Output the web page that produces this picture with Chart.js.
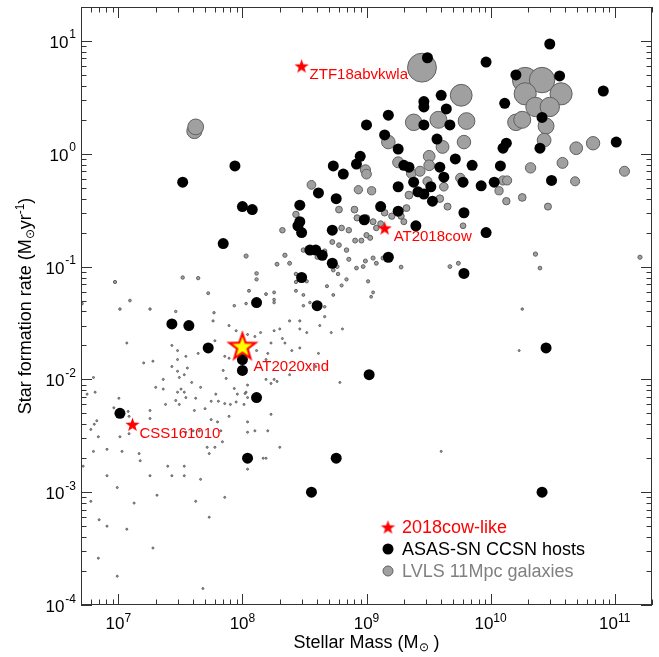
<!DOCTYPE html>
<html>
<head>
<meta charset="utf-8">
<script src="https://cdn.jsdelivr.net/npm/chart.js@4.4.1/dist/chart.umd.min.js"></script>
<style>
  html, body { margin: 0; padding: 0; background: #fff; }
  #wrap { width: 659px; height: 657px; }
</style>
</head>
<body>
<div id="wrap"><canvas id="sfrChart"></canvas></div>
<script>
// ---- values (stellar mass in Msun, SFR in Msun/yr) ----

// 2018cow-like transients
const cowNames = ['ZTF18abvkwla', 'AT2018cow', 'AT2020xnd', 'CSS161010'];
const cowMass  = [3.0e8, 1.4e9, 1.0e8, 1.3e7];
const cowSfr   = [6.0, 0.22, 0.02, 0.004];

// ASAS-SN CCSN hosts
const asasMass = [
  3.3e7, 8.7e7, 1.0e8, 1.2e8, 7.0e7, 2.9e8, 2.9e8, 2.8e8, 3.0e8, 4.1e8,
  3.5e8, 3.9e8, 4.4e8, 3.0e8, 1.3e8, 4.0e8, 2.7e7, 3.7e7, 5.4e8, 6.5e8,
  8.3e8, 8.9e8, 1.8e9, 5.7e8, 5.3e8, 1.3e9, 1.8e9, 9.6e8, 5.3e8, 1.5e9,
  1.8e9, 3.1e9, 9.2e9, 3.0e10, 1.6e10, 3.6e10, 4.0e9, 2.9e9, 2.9e9, 4.4e9,
  1.5e9, 1.3e10, 2.6e10, 2.9e9, 4.7e9, 1.4e9, 3.7e9, 1.34e10, 1.26e10, 2.5e10,
  5.2e9, 7.1e9, 1.2e10, 2.0e9, 2.2e9, 3.9e9, 4.2e9, 2.4e9, 6.0e9, 3.1e10,
  3.3e9, 8.4e9, 1.07e10, 2.6e9, 2.9e9, 3.4e9, 6.1e9, 8.1e10, 1.0e9, 1.03e11,
  2.5e9, 9.2e9, 6.1e9, 5.3e7, 1.0e8, 1.0e8, 1.03e7, 1.3e8, 1.1e8, 3.6e8,
  2.8e10, 1.05e9, 5.7e8, 2.6e10
];
const asasSfr = [
  0.56, 0.78, 0.34, 0.32, 0.16, 0.35, 0.25, 0.23, 0.20, 0.45,
  0.14, 0.14, 0.126, 0.080, 0.048, 0.045, 0.031, 0.030, 0.78, 0.66,
  0.81, 0.95, 1.10, 0.40, 0.21, 0.34, 0.31, 0.26, 0.107, 0.121,
  0.51, 7.1, 6.5, 9.4, 5.0, 4.9, 3.3, 2.9, 2.6, 2.5,
  2.2, 2.8, 2.1, 1.8, 1.8, 1.47, 1.35, 1.24, 1.12, 1.12,
  0.90, 0.79, 0.78, 0.79, 0.76, 0.76, 0.62, 0.56, 0.56, 0.58,
  0.51, 0.52, 0.56, 0.46, 0.44, 0.38, 0.30, 3.6, 1.8, 1.27,
  0.23, 0.20, 0.087, 0.019, 0.015, 0.012, 0.0050, 0.0069, 0.0020, 0.0010,
  0.019, 0.011, 0.0020, 0.0010
];

// LVLS 11 Mpc galaxies
const lvlsMass = [
  2.8e9, 5.8e9, 2.4e9, 3.8e9, 6.4e9, 1.5e9, 4.1e9, 6.1e9, 1.8e9, 3.2e9,
  3.2e9, 2.3e9, 2.7e9, 9.8e8, 1.0e9, 3.1e9, 5.7e9, 4.2e9, 2.2e9, 3.9e9,
  4.5e9, 8.6e8, 1.1e9, 6.0e8, 8.0e8, 1.0e9, 1.13e9, 8.4e8, 2.1e9, 1.9e9,
  2.0e9, 1.6e9, 1.4e9, 1.3e9, 7.2e8, 6.3e8, 1.2e9, 8.1e8, 9.1e8, 1.07e9,
  6.9e8, 5.3e8, 6.0e8, 1.0e9, 1.13e9, 9.4e8, 8.3e8, 1.2e9, 1.36e9, 1.9e9,
  7.2e8, 5.8e8, 9.8e8, 6.3e8, 6.9e8, 5.4e8, 1.03e9, 1.13e9, 1.09e9, 4.7e9,
  5.5e9, 6.4e8, 6.0e9, 1.26e10, 1.36e10, 1.17e10, 1.34e10, 1.8e10, 2.1e10, 2.9e10,
  3.8e10, 4.8e10, 4.9e10, 6.7e10, 1.2e11, 2.3e10, 2.5e10, 1.8e10, 1.6e11, 1.7e10,
  6.1e8, 4.0e9, 1.9e10, 2.6e10, 1.9e10, 3.7e10, 2.3e10, 3.0e10, 1.6e10, 1.8e10,
  2.8e10, 2.7e10, 4.1e7, 4.2e7, 3.6e8, 2.7e8, 2.1e8, 1.07e8, 2.2e8, 2.4e8,
  1.9e8, 3.1e8, 4.6e8, 4.0e8, 9.4e6, 3.3e7, 4.4e7, 1.3e8, 1.3e8, 2.7e8,
  3.3e8, 2.7e8, 5.3e7, 1.13e8, 1.55e8, 1.8e8, 1.8e8, 1.8e8, 2.7e8, 3.1e8,
  4.8e8, 5.1e6, 1.03e7, 1.24e7, 1.8e7, 2.9e7, 8.6e7, 1.07e8, 3.1e8, 3.5e8,
  4.6e8, 4.6e8, 5.9e7, 5.8e7, 2.4e8, 2.9e8, 2.9e8, 3.3e8, 1.8e8, 2.0e8,
  1.4e8, 1.1e8, 1.26e8, 1.7e8, 2.1e8, 2.2e8, 2.5e8, 2.9e8, 4.1e8, 1.6e8,
  1.55e8, 1.3e8, 3.9e8, 2.4e8, 1.8e8, 1.9e8, 1.7e8, 1.55e8, 1.1e8, 1.05e8,
  1.1e8, 1.03e8, 1.7e8, 1.1e8, 1.26e8, 5.2e8, 4.2e8, 5.4e8, 5.9e8, 1.17e7,
  2.7e7, 3.0e7, 4.4e7, 6.0e7, 7.8e7, 8.9e7, 1.6e7, 1.9e7, 3.0e7, 2.7e7,
  3.5e7, 3.6e7, 3.0e7, 3.4e7, 3.1e7, 2.3e7, 2.0e7, 2.3e7, 3.9e7, 4.6e7,
  3.2e7, 3.0e7, 3.4e7, 3.5e7, 2.9e7, 3.1e7, 2.4e7, 4.2e7, 5.6e7, 6.1e7,
  6.4e7, 7.2e7, 8.0e7, 8.9e7, 9.1e7, 8.6e7, 1.07e8, 7.4e7, 7.0e7, 7.2e7,
  7.8e7, 6.3e6, 6.5e6, 5.6e6, 1.01e7, 9.2e6, 1.2e7, 1.22e7, 1.8e7, 1.8e7,
  5.0e7, 5.6e7, 7.8e7, 4.1e7, 1.1e8, 1.6e8, 2.0e8, 1.47e8, 1.55e8, 1.1e8,
  1.03e7, 1.22e7, 6.3e6, 6.9e6, 6.0e6, 6.4e6, 6.7e6, 5.2e6, 8.1e6, 8.1e6,
  1.07e7, 1.47e7, 1.5e7, 1.8e7, 2.5e7, 2.7e7, 3.4e7, 3.4e7, 4.6e7, 5.2e7,
  5.4e7, 6.0e7, 6.9e7, 6.7e7, 6.3e7, 4.5e7, 4.0e7, 3.5e7, 9.8e6, 6.0e6,
  8.1e6, 7.0e6, 1.34e7, 2.05e7, 4.2e7, 5.4e7, 7.2e7, 1.17e7, 6.9e6, 1.9e7,
  9.8e6, 4.8e7
];
const lvlsSfr = [
  5.8, 3.3, 1.9, 2.0, 1.95, 1.27, 1.15, 1.27, 0.84, 0.95,
  0.79, 0.67, 0.70, 0.72, 0.66, 0.57, 0.61, 0.51, 0.43, 0.40,
  0.34, 0.48, 0.47, 0.32, 0.32, 0.27, 0.25, 0.27, 0.33, 0.28,
  0.25, 0.28, 0.30, 0.24, 0.21, 0.22, 0.22, 0.17, 0.17, 0.18,
  0.14, 0.165, 0.155, 0.19, 0.119, 0.10, 0.097, 0.107, 0.119, 0.099,
  0.116, 0.10, 0.112, 0.068, 0.077, 0.056, 0.074, 0.059, 0.054, 0.10,
  0.107, 0.028, 0.23, 0.58, 0.58, 0.47, 0.38, 0.41, 0.75, 0.34,
  0.83, 0.57, 1.12, 1.24, 0.70, 0.129, 0.097, 0.042, 0.121, 0.018,
  0.0094, 0.0023, 4.5, 4.5, 3.4, 3.4, 2.6, 2.6, 1.9, 2.0,
  1.76, 1.32, 1.59, 1.73, 0.53, 0.29, 0.21, 0.124, 0.126, 0.107,
  0.105, 0.14, 0.137, 0.121, 0.073, 0.080, 0.079, 0.087, 0.077, 0.086,
  0.074, 0.073, 0.058, 0.061, 0.057, 0.059, 0.051, 0.048, 0.061, 0.056,
  0.067, 0.047, 0.042, 0.050, 0.042, 0.040, 0.045, 0.047, 0.045, 0.048,
  0.044, 0.036, 0.039, 0.033, 0.033, 0.033, 0.028, 0.026, 0.027, 0.028,
  0.026, 0.025, 0.024, 0.021, 0.023, 0.021, 0.018, 0.019, 0.017, 0.017,
  0.015, 0.018, 0.013, 0.011, 0.010, 0.0096, 0.0092, 0.010, 0.0089, 0.0075,
  0.0069, 0.0060, 0.0049, 0.0034, 0.0035, 0.026, 0.030, 0.093, 0.086, 0.021,
  0.020, 0.018, 0.017, 0.022, 0.030, 0.027, 0.014, 0.0145, 0.015, 0.013,
  0.016, 0.0126, 0.0118, 0.011, 0.0104, 0.010, 0.0085, 0.0082, 0.0094, 0.0085,
  0.0082, 0.0077, 0.0077, 0.0069, 0.0065, 0.0060, 0.0060, 0.0068, 0.0064, 0.0074,
  0.0064, 0.0061, 0.0060, 0.0063, 0.0074, 0.0083, 0.0077, 0.0102, 0.012, 0.016,
  0.0154, 0.0104, 0.0077, 0.0074, 0.0068, 0.0056, 0.0052, 0.0047, 0.0053, 0.0045,
  0.0055, 0.0044, 0.0047, 0.0053, 0.0042, 0.0035, 0.0025, 0.0020, 0.0020, 0.0016,
  0.0031, 0.0033, 0.0023, 0.0031, 0.0036, 0.0040, 0.0043, 0.0017, 0.0014, 0.0024,
  0.0023, 0.0022, 0.0019, 0.0014, 0.0017, 0.0014, 0.0017, 0.0014, 0.0013, 0.0025,
  0.0022, 0.0025, 0.0028, 0.0035, 0.0042, 0.0035, 0.0035, 0.0034, 0.0011, 0.00083,
  0.00050, 0.00057, 0.00080, 0.00094, 0.00083, 0.00060, 0.00090, 0.00047, 0.00026, 0.00032,
  0.00018, 0.00014
];

// axis ranges and labelled decades
const xRange = [5e6, 2e11];
const yRange = [1e-4, 20];
const xTickPowers = [7, 8, 9, 10, 11];
const yTickPowers = [-4, -3, -2, -1, 0, 1];

// ---- drawing helpers ----
const FONT = '"Liberation Sans", Arial, Helvetica, sans-serif';
const RED = '#ff0000';

function starPath(c, cx, cy, R, r) {
    c.beginPath();
    for (let i = 0; i < 10; i++) {
        const rad = i % 2 ? r : R;
        const ang = -Math.PI / 2 + i * Math.PI / 5;
        c.lineTo(cx + rad * Math.cos(ang), cy + rad * Math.sin(ang));
    }
    c.closePath();
}

// star images used as pointStyle
function makeStar(R, color, innerR, innerColor) {
    const cv = document.createElement('canvas');
    const s = Math.ceil(2 * R + 2);
    cv.width = s;
    cv.height = s;
    const c = cv.getContext('2d');
    starPath(c, s / 2, s / 2 + R * 0.1, R, R * 0.4);
    c.fillStyle = color;
    c.fill();
    if (innerR) {
        starPath(c, s / 2, s / 2 + R * 0.1, innerR, innerR * 0.4);
        c.fillStyle = innerColor;
        c.fill();
    }
    return cv;
}
const smallStar = makeStar(7.5, RED);
const bigStar = makeStar(17, RED, 10.5, '#ffff00');

// draws text pieces of different size/offset in a row
function drawParts(ctx, parts, x, y, align) {
    let total = 0;
    parts.forEach(p => {
        ctx.font = p.size + 'px ' + FONT;
        p.w = ctx.measureText(p.t).width;
        total += p.w;
    });
    let cx = align === 'center' ? x - total / 2 : (align === 'right' ? x - total : x);
    ctx.textAlign = 'left';
    ctx.textBaseline = 'alphabetic';
    parts.forEach(p => {
        ctx.font = p.size + 'px ' + FONT;
        ctx.fillText(p.t, cx, y + (p.dy || 0));
        cx += p.w;
    });
}

// frame with inward ticks on all sides, labels, titles, annotations and legend
const framePlugin = {
    id: 'frame',
    afterDatasetsDraw(chart) {
        const {ctx, chartArea: a, scales} = chart;
        const xs = scales.x, ys = scales.y;
        ctx.save();
        ctx.strokeStyle = '#333';
        ctx.lineWidth = 1;
        ctx.strokeRect(a.left + 0.5, a.top + 0.5, a.right - a.left - 1, a.bottom - a.top - 1);

        ctx.beginPath();
        for (let p = 6; p <= 11; p++) {
            for (let m = 1; m <= 9; m++) {
                const v = m * Math.pow(10, p);
                if (v < xRange[0] || v > xRange[1]) continue;
                const px = Math.round(xs.getPixelForValue(v)) + 0.5;
                const len = m === 1 ? 11 : 5.5;
                ctx.moveTo(px, a.bottom); ctx.lineTo(px, a.bottom - len);
                ctx.moveTo(px, a.top); ctx.lineTo(px, a.top + len);
            }
        }
        for (let p = -4; p <= 1; p++) {
            for (let m = 1; m <= 9; m++) {
                const v = m * Math.pow(10, p);
                if (v < yRange[0] * 0.999 || v > yRange[1]) continue;
                const py = Math.round(ys.getPixelForValue(v)) + 0.5;
                const len = m === 1 ? 11 : 5.5;
                ctx.moveTo(a.left, py); ctx.lineTo(a.left + len, py);
                ctx.moveTo(a.right, py); ctx.lineTo(a.right - len, py);
            }
        }
        ctx.stroke();

        // tick labels
        ctx.fillStyle = '#000';
        xTickPowers.forEach(p => {
            const px = xs.getPixelForValue(Math.pow(10, p));
            drawParts(ctx, [
                {t: '10', size: 17},
                {t: String(p), size: 12, dy: -7}
            ], px, a.bottom + 23.5, 'center');
        });
        yTickPowers.forEach(p => {
            const py = ys.getPixelForValue(Math.pow(10, p));
            drawParts(ctx, [
                {t: '10', size: 17},
                {t: ' ', size: 3},
                {t: String(p), size: 12, dy: -9.5}
            ], a.left - 5, py + 7, 'right');
        });

        // axis titles
        const midX = (a.left + a.right) / 2;
        drawParts(ctx, [
            {t: 'Stellar Mass (M', size: 18},
            {t: '\u2299', size: 12, dy: 3},
            {t: ' )', size: 18}
        ], midX, a.bottom + 43, 'center');

        ctx.save();
        ctx.translate(31, (a.top + a.bottom) / 2);
        ctx.rotate(-Math.PI / 2);
        drawParts(ctx, [
            {t: 'Star formation rate (M', size: 18},
            {t: '\u2299', size: 12, dy: 3},
            {t: 'yr', size: 18},
            {t: '-1', size: 12, dy: -7},
            {t: ')', size: 18}
        ], 0, 0, 'center');
        ctx.restore();

        // names next to the 2018cow-like stars
        const offsets = {ZTF18abvkwla: [8, 9], AT2018cow: [9, 9], AT2020xnd: [11, 21], CSS161010: [7, 10]};
        ctx.font = '15px ' + FONT;
        ctx.fillStyle = RED;
        ctx.textAlign = 'left';
        ctx.textBaseline = 'middle';
        cowNames.forEach((name, i) => {
            const px = xs.getPixelForValue(cowMass[i]);
            const py = ys.getPixelForValue(cowSfr[i]);
            const o = offsets[name];
            ctx.fillText(name, px + o[0], py + o[1]);
        });

        // legend
        const lx = a.left + 307, ly = a.bottom - 78, step = 22;
        ctx.drawImage(smallStar, lx - smallStar.width / 2, ly - smallStar.height / 2);
        ctx.fillStyle = '#000';
        ctx.beginPath(); ctx.arc(lx, ly + step, 5.5, 0, Math.PI * 2); ctx.fill();
        ctx.fillStyle = '#a0a0a0';
        ctx.strokeStyle = '#606060';
        ctx.beginPath(); ctx.arc(lx, ly + 2 * step, 5, 0, Math.PI * 2); ctx.fill(); ctx.stroke();
        ctx.font = '18px ' + FONT;
        ctx.textBaseline = 'middle';
        ctx.fillStyle = RED;
        ctx.fillText('2018cow-like', lx + 14, ly + 1);
        ctx.fillStyle = '#000';
        ctx.fillText('ASAS-SN CCSN hosts', lx + 14, ly + step + 1);
        ctx.fillStyle = '#808080';
        ctx.fillText('LVLS 11Mpc galaxies', lx + 14, ly + 2 * step + 1);
        ctx.restore();
    }
};

const toPoints = (xsArr, ysArr) => xsArr.map((v, i) => ({x: v, y: ysArr[i]}));

new Chart(document.getElementById('sfrChart').getContext('2d'), {
    type: 'scatter',
    data: {
        datasets: [{
            label: '2018cow-like',
            data: toPoints(cowMass, cowSfr),
            pointStyle: ctx => cowNames[ctx.dataIndex] === 'AT2020xnd' ? bigStar : smallStar,
            order: 0
        }, {
            label: 'ASAS-SN CCSN hosts',
            data: toPoints(asasMass, asasSfr),
            backgroundColor: '#000',
            borderWidth: 0,
            pointRadius: 5.5,
            order: 1
        }, {
            label: 'LVLS 11Mpc galaxies',
            data: toPoints(lvlsMass, lvlsSfr),
            backgroundColor: '#a0a0a0',
            borderColor: '#606060',
            borderWidth: 1,
            // marker size grows with star formation rate
            pointRadius: ctx => ctx.raw ? Math.max(1, 6 * Math.sqrt(ctx.raw.y)) : 3,
            order: 2
        }]
    },
    options: {
        responsive: true,
        maintainAspectRatio: false,
        animation: false,
        events: [],
        layout: {autoPadding: false, padding: {top: 7, right: 7, left: 0, bottom: 0}},
        plugins: {
            legend: {display: false},
            tooltip: {enabled: false}
        },
        scales: {
            x: {
                type: 'logarithmic',
                min: xRange[0],
                max: xRange[1],
                grid: {display: false},
                border: {display: false},
                ticks: {display: false},
                afterFit(s) { s.height = 52; }
            },
            y: {
                type: 'logarithmic',
                min: yRange[0],
                max: yRange[1],
                grid: {display: false},
                border: {display: false},
                ticks: {display: false},
                afterFit(s) { s.width = 81; }
            }
        }
    },
    plugins: [framePlugin]
});
</script>
</body>
</html>
